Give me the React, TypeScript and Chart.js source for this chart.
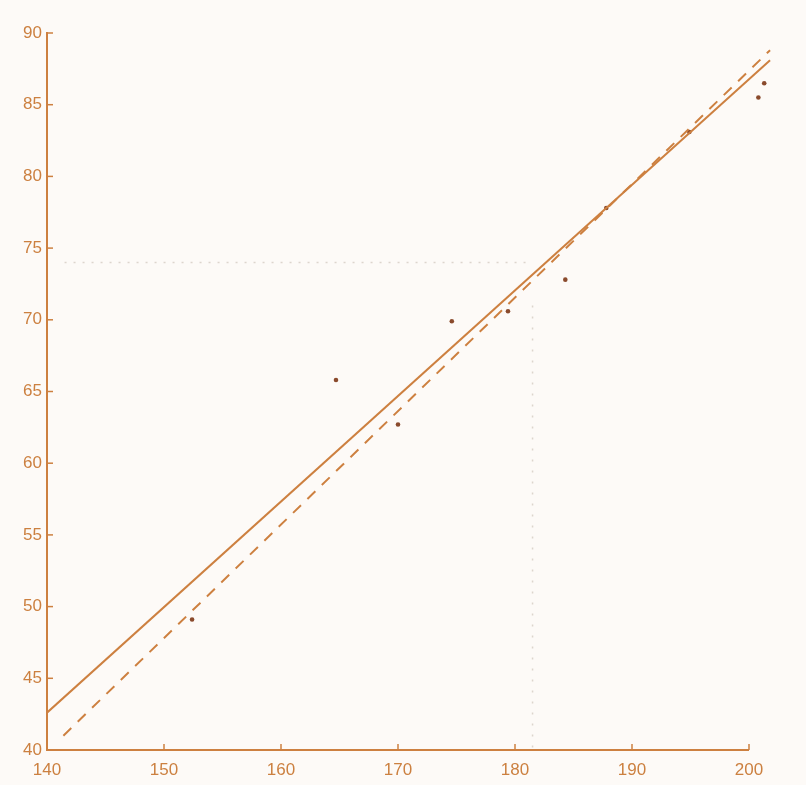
import React, { useEffect, useRef } from "react";
import { Chart, registerables } from "chart.js";

Chart.register(...registerables);

const xTicks = [140, 150, 160, 170, 180, 190, 200];
const yTicks = [40, 45, 50, 55, 60, 65, 70, 75, 80, 85, 90];

const pointsX = [152.4, 164.7, 170.0, 174.6, 179.4, 184.3, 187.8, 194.9, 200.8, 201.3];
const pointsY = [49.1, 65.8, 62.7, 69.9, 70.6, 72.8, 77.8, 83.1, 85.5, 86.5];

const solidX = [140, 201.8];
const solidY = [42.6, 88.1];

const dashedX = [141.4, 201.8];
const dashedY = [41.0, 88.8];

const guideHX = [141.5, 181.5];
const guideHY = [74, 74];
const guideVX = [181.5, 181.5];
const guideVY = [71, 40];

const ORANGE = "#cd8040";
const LABEL = "#cc8040";

const zip = (xs: number[], ys: number[]) => xs.map((x, i) => ({ x, y: ys[i] }));

const axesPlugin = {
  id: "axesPlugin",
  afterDatasetsDraw(chart: any) {
    const { ctx, scales, chartArea } = chart;
    ctx.save();
    ctx.strokeStyle = ORANGE;
    // x axis line from first to last tick
    ctx.lineWidth = 2;
    ctx.beginPath();
    ctx.moveTo(scales.x.getPixelForValue(xTicks[0]), chartArea.bottom);
    ctx.lineTo(scales.x.getPixelForValue(xTicks[xTicks.length - 1]), chartArea.bottom);
    ctx.stroke();
    ctx.lineWidth = 1.5;
    xTicks.forEach((v) => {
      const px = scales.x.getPixelForValue(v);
      ctx.beginPath();
      ctx.moveTo(px, chartArea.bottom);
      ctx.lineTo(px, chartArea.bottom - 6);
      ctx.stroke();
    });
    yTicks.forEach((v) => {
      const py = scales.y.getPixelForValue(v);
      ctx.beginPath();
      ctx.moveTo(chartArea.left, py);
      ctx.lineTo(chartArea.left + 6, py);
      ctx.stroke();
    });
    ctx.restore();
  },
};

const bgPlugin = {
  id: "bg",
  beforeDraw(chart: any) {
    const { ctx, width, height } = chart;
    ctx.save();
    ctx.fillStyle = "#fdfaf7";
    ctx.fillRect(0, 0, width, height);
    ctx.restore();
  },
};

export default function App() {
  const ref = useRef<HTMLCanvasElement>(null);
  useEffect(() => {
    if (!ref.current) return;
    const chart = new Chart(ref.current, {
      type: "scatter",
      data: {
        datasets: [
          {
            data: zip(guideHX, guideHY),
            showLine: true,
            borderColor: "#ddd5cd",
            borderWidth: 1.5,
            borderDash: [2, 7],
            pointRadius: 0,
          },
          {
            data: zip(guideVX, guideVY),
            showLine: true,
            borderColor: "#ddd5cd",
            borderWidth: 1.5,
            borderDash: [2, 9],
            pointRadius: 0,
          },
          {
            data: zip(solidX, solidY),
            showLine: true,
            borderColor: ORANGE,
            borderWidth: 2,
            pointRadius: 0,
          },
          {
            data: zip(dashedX, dashedY),
            showLine: true,
            borderColor: ORANGE,
            borderWidth: 2,
            borderDash: [11, 9],
            pointRadius: 0,
          },
          {
            data: zip(pointsX, pointsY),
            showLine: false,
            pointRadius: 2.3,
            pointBackgroundColor: "#8a4a2c",
            pointBorderWidth: 0,
          },
        ],
      },
      options: {
        animation: false,
        responsive: false,
        maintainAspectRatio: false,
        layout: { padding: { top: 33, right: 33.6, left: 0, bottom: 0 } },
        plugins: { legend: { display: false }, tooltip: { enabled: false } },
        scales: {
          x: {
            type: "linear",
            min: 140,
            max: 202,
            afterFit: (s: any) => {
              s.height = 35;
            },
            afterBuildTicks: (s: any) => {
              s.ticks = xTicks.map((v) => ({ value: v }));
            },
            grid: { display: false, drawTicks: false },
            border: { display: false },
            ticks: {
              color: LABEL,
              padding: 10,
              font: { family: "Liberation Sans, Arial, sans-serif", size: 17 },
              maxRotation: 0,
            },
          },
          y: {
            type: "linear",
            min: 40,
            max: 90,
            afterFit: (s: any) => {
              s.width = 47;
            },
            afterBuildTicks: (s: any) => {
              s.ticks = yTicks.map((v) => ({ value: v }));
            },
            grid: { display: false, drawTicks: false },
            border: { display: true, color: ORANGE, width: 2 },
            ticks: {
              color: LABEL,
              padding: 5,
              font: { family: "Liberation Sans, Arial, sans-serif", size: 17 },
            },
          },
        },
      },
      plugins: [bgPlugin, axesPlugin],
    });
    return () => chart.destroy();
  }, []);
  return (
    <div style={{ position: "absolute", left: 0, top: 0, width: 806, height: 785, background: "#fdfaf7" }}>
      <canvas ref={ref} width={806} height={785} style={{ width: 806, height: 785, display: "block" }} />
    </div>
  );
}
